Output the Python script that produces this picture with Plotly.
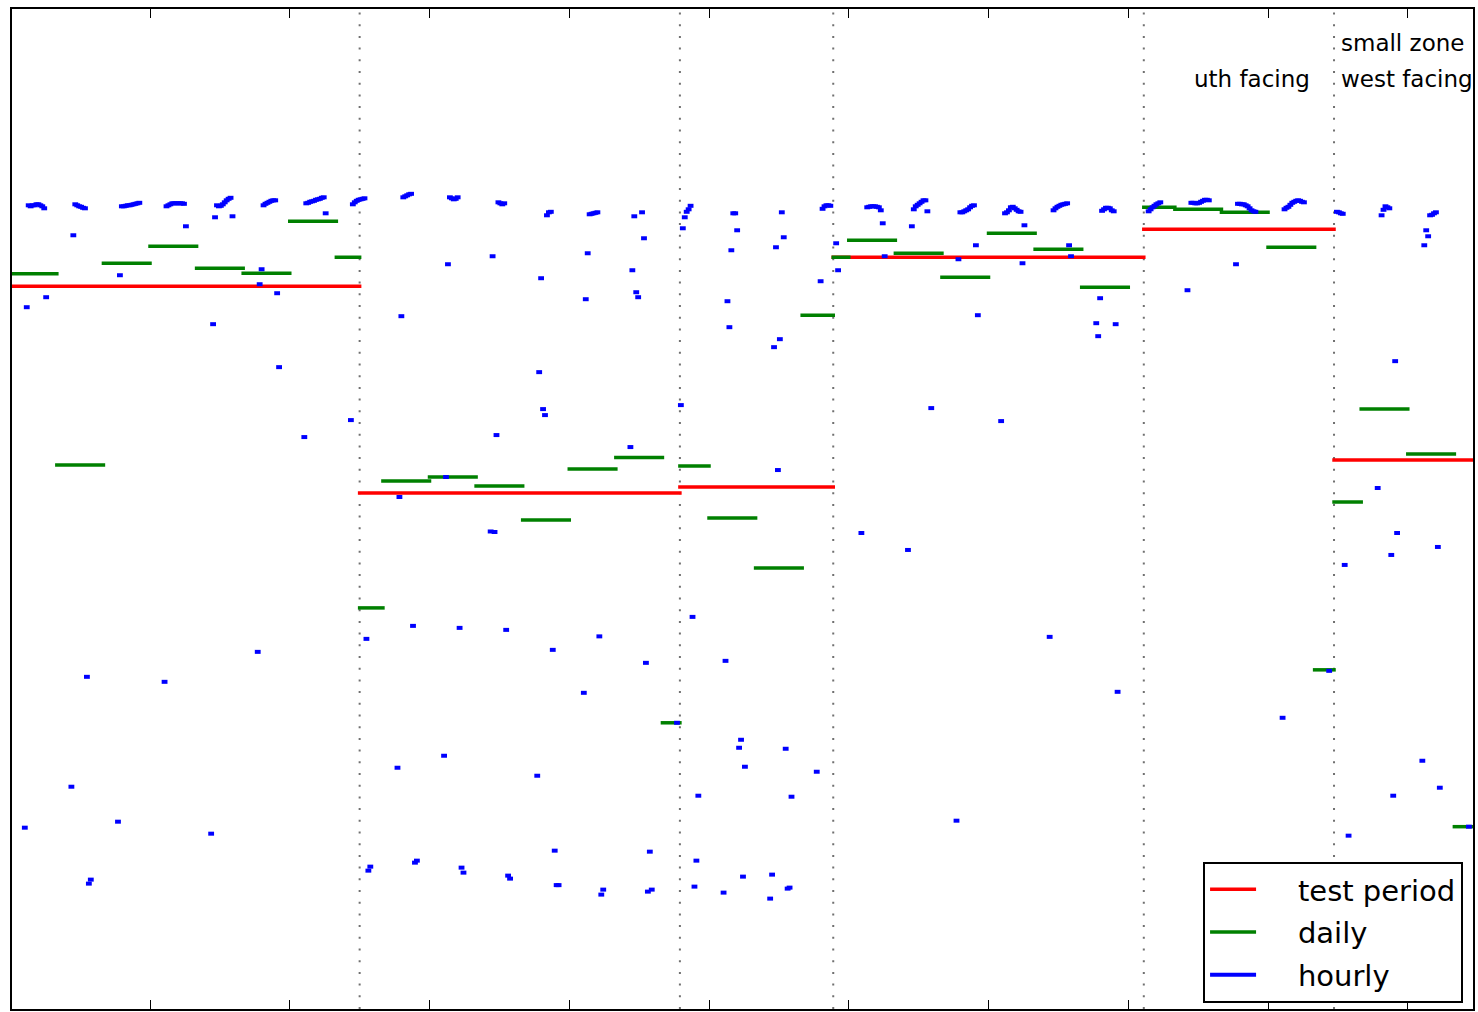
import plotly.graph_objects as go

# ---------------- data (x in hours from start, y in arbitrary units) ----------------
period_start = [0, 180, 345, 424, 584, 682]
period_end = [180, 345, 424, 584, 682, 753]
period_value = [72.4, 51.7, 52.3, 75.3, 78.1, 55.0]

day_start = [0, 24, 48, 72, 96, 120, 144, 168,
             180, 192, 216, 240, 264, 288, 312, 336,
             345, 360, 384, 408,
             424, 432, 456, 480, 504, 528, 552,
             584, 600, 624, 648, 672,
             682, 696, 720, 744]
day_end = [24, 48, 72, 96, 120, 144, 168, 180,
           192, 216, 240, 264, 288, 312, 336, 345,
           360, 384, 408, 424,
           432, 456, 480, 504, 528, 552, 576,
           600, 624, 648, 672, 682,
           696, 720, 744, 753]
day_value = [73.65, 54.5, 74.7, 76.4, 74.2, 73.7, 78.9, 75.3,
             40.2, 52.9, 53.3, 52.4, 49.0, 54.1, 55.25, 28.7,
             54.4, 49.2, 44.2, 69.5,
             75.3, 77.0, 75.7, 73.3, 77.7, 76.1, 72.3,
             80.3, 80.1, 79.8, 76.3, 34.0,
             50.8, 60.1, 55.6, 18.3]

hours_zone1 = [7, 8, 9, 10, 11, 12, 13, 14, 15, 16, 17, 18,
               31, 32, 33, 34, 35, 36, 37, 38, 39, 40, 41,
               55, 56, 57, 58, 59, 60, 61, 62, 63, 64, 65, 66,
               79, 80, 81, 82, 83, 84, 85, 86, 87, 88, 89, 90,
               103, 104, 105, 106, 107, 108, 109, 110, 111, 112, 113, 114,
               127, 128, 129, 130, 131, 132, 133, 134, 135, 136, 137, 138,
               151, 152, 153, 154, 155, 156, 157, 158, 159, 160, 161, 162,
               175, 176, 177, 178, 179]
values_zone1 = [18.2, 70.3, 80.5, 80.4, 80.5, 80.5, 80.6, 80.6, 80.5, 80.4, 80.2, 71.3,
                22.3, 77.5, 80.6, 80.5, 80.4, 80.35, 80.25, 80.2, 33.3, 12.6, 13.0,
                18.8, 73.5, 80.4, 80.4, 80.45, 80.5, 80.5, 80.55, 80.6, 80.65, 80.7, 80.75,
                32.8, 80.4, 80.5, 80.6, 80.7, 80.7, 80.7, 80.7, 80.7, 80.7, 80.65, 78.4,
                17.6, 68.6, 79.3, 80.5, 80.4, 80.45, 80.6, 80.8, 81.0, 81.15, 81.25, 79.4,
                35.8, 72.6, 74.1, 80.5, 80.65, 80.75, 80.85, 80.95, 81.0, 81.0, 71.7, 64.3,
                57.3, 80.7, 80.75, 80.85, 80.9, 80.95, 81.05, 81.1, 81.15, 81.25, 81.3, 79.7,
                59.0, 80.6, 80.8, 80.95, 81.05]

hours_zone2 = [180, 181, 182, 183, 184, 185,
               199, 200, 201, 202, 203, 204, 205, 206, 207, 208, 209,
               223, 224, 225, 226, 227, 228, 229, 230, 231, 232, 233,
               247, 248, 249, 250, 251, 252, 253, 254, 255, 256, 257,
               271, 272, 273, 274, 275, 276, 277, 278, 279, 280, 281, 282,
               295, 296, 297, 298, 299, 300, 301, 302, 303, 304, 305,
               319, 320, 321, 322, 323, 325, 326, 327, 328, 329, 330,
               343]
values_zone2 = [81.1, 81.15, 81.2, 37.1, 13.9, 14.3,
                24.2, 51.3, 69.4, 81.3, 81.4, 81.5, 81.6, 81.65, 38.4, 14.7, 14.9,
                25.4, 53.3, 74.6, 81.3, 81.2, 81.1, 81.15, 81.3, 38.2, 14.2, 13.7,
                47.85, 75.4, 47.8, 57.5, 80.8, 80.7, 80.6, 80.7, 38.0, 13.4, 13.1,
                23.4, 63.8, 73.2, 60.1, 59.5, 79.5, 79.8, 79.85, 36.0, 15.9, 12.45, 12.45,
                31.7, 71.1, 75.7, 79.6, 79.65, 79.7, 79.75, 79.8, 37.35, 11.5, 12.0,
                56.3, 74.0, 79.4, 71.8, 71.3, 79.8, 77.2, 34.7, 11.8, 15.8, 12.0,
                28.7]

hours_zone3 = [345, 346, 347, 348, 349, 350, 351, 352, 353, 354,
               367, 368, 369, 370, 371, 372, 373, 374, 375, 376, 377, 378,
               391, 392, 393, 394, 395, 396, 397, 398, 399, 400, 401, 402,
               415, 417, 418, 419, 420, 421, 422]
values_zone3 = [60.5, 78.2, 79.3, 79.85, 80.1, 80.45, 39.3, 12.3, 14.9, 21.4,
                11.7, 34.9, 70.9, 68.3, 76.0, 79.7, 79.7, 78.0, 26.2, 27.0, 13.3, 24.3,
                11.1, 13.5, 66.3, 76.3, 54.0, 67.1, 79.8, 77.3, 26.1, 12.1, 12.2, 21.3,
                23.8, 72.9, 80.15, 80.4, 80.5, 80.5, 80.45]

hours_zone4 = [425, 426,
               438, 441, 442, 443, 444, 445, 446, 447, 448, 449, 450,
               462, 464, 465, 466, 467, 468, 469, 470, 471, 472, 474,
               487, 488, 489, 490, 491, 492, 493, 494, 495, 496, 497, 498,
               510, 512, 513, 514, 515, 516, 517, 518, 519, 520, 521, 522,
               535, 537, 538, 539, 540, 541, 542, 543, 544, 545, 546,
               559, 560, 561, 562, 563, 564, 565, 566, 567, 568, 569, 570]
values_zone4 = [76.7, 74.0,
                47.7, 80.3, 80.35, 80.4, 80.4, 80.4, 80.35, 80.3, 80.0, 78.7, 75.4,
                46.0, 78.4, 80.1, 80.4, 80.55, 80.7, 80.85, 81.0, 81.0, 79.9, 60.2,
                18.9, 75.1, 79.8, 79.8, 79.9, 80.0, 80.1, 80.3, 80.45, 80.5, 76.5, 69.5,
                58.9, 79.7, 79.8, 80.0, 80.3, 80.35, 80.2, 80.05, 79.9, 79.85, 74.7, 78.5,
                37.3, 80.0, 80.2, 80.35, 80.45, 80.55, 80.6, 80.65, 80.7, 76.5, 75.4,
                68.7, 67.4, 71.2, 79.95, 80.1, 80.25, 80.25, 80.2, 80.0, 79.9, 68.6, 31.8]

hours_zone5 = [586, 587, 588, 589, 590, 591, 592,
               606, 608, 609, 610, 611, 612, 613, 614, 615, 616, 617,
               631, 632, 633, 634, 635, 636, 637, 638, 639, 640, 641,
               655, 656, 657, 658, 659, 660, 661, 662, 663, 664, 665, 666,
               679]
values_zone5 = [79.9, 80.1, 80.3, 80.45, 80.6, 80.7, 80.8,
                72.0, 80.75, 80.75, 80.7, 80.7, 80.75, 80.85, 80.95, 81.05, 81.05, 81.0,
                74.6, 80.65, 80.65, 80.6, 80.6, 80.5, 80.4, 80.2, 80.0, 79.9, 79.85,
                29.2, 80.1, 80.25, 80.35, 80.55, 80.75, 80.85, 80.95, 81.0, 80.95, 80.85, 80.8,
                33.9]

hours_zone6 = [683, 684, 685, 686, 687, 689,
               704, 706, 707, 708, 709, 710, 711, 712, 713, 714,
               727, 728, 729, 730, 731, 732, 733, 734, 735, 736,
               751]
values_zone6 = [79.85, 79.8, 79.7, 79.65, 44.5, 17.4,
                52.2, 79.5, 80.05, 80.4, 80.3, 80.2, 45.5, 21.4, 64.9, 47.7,
                24.9, 76.5, 78.0, 77.4, 79.5, 79.55, 79.7, 79.8, 46.3, 22.2,
                18.3]

zone_texts = ["uth facing", "small zone", "west facing"]
legend_names = ["test period", "daily", "hourly"]

# ---------------- build ----------------
hourly_hour = hours_zone1 + hours_zone2 + hours_zone3 + hours_zone4 + hours_zone5 + hours_zone6
hourly_value = values_zone1 + values_zone2 + values_zone3 + values_zone4 + values_zone5 + values_zone6

LINE_W = 3.5
HOURLY_W = 4
CAP = 0.9  # projecting line cap (half the line width), expressed in hours


def segments(starts, ends, vals, cap=CAP):
    xs, ys = [], []
    for s, e, v in zip(starts, ends, vals):
        xs += [s - cap, e + cap, None]
        ys += [v, v, None]
    return xs, ys


FONT = "DejaVu Sans"
PAD = "\u00a0" * 4
fig = go.Figure()

px_, py_ = segments(period_start, period_end, period_value)
fig.add_trace(go.Scatter(x=px_, y=py_, mode="lines", name=PAD + legend_names[0],
                         legendgroup="a", line=dict(color="#ff0000", width=LINE_W)))

dx, dy = segments(day_start, day_end, day_value)
fig.add_trace(go.Scatter(x=dx, y=dy, mode="lines", name=PAD + legend_names[1],
                         legendgroup="b", line=dict(color="#008000", width=LINE_W)))

hx, hy = segments(hourly_hour, [h + 1 for h in hourly_hour], hourly_value, cap=1.0)
fig.add_trace(go.Scatter(x=hx, y=hy, mode="lines", name=PAD + legend_names[2],
                         legendgroup="c", line=dict(color="#0000ff", width=HOURLY_W)))

for b in period_end[:-1]:
    fig.add_vline(x=b, line=dict(color="#707070", width=2, dash="2px,9.7px"), layer="below")

fig.add_annotation(x=period_end[4] - 11.5, y=93.1, text=zone_texts[0], xanchor="right",
                   yanchor="middle", showarrow=False, font=dict(family=FONT, size=23, color="black"))
fig.add_annotation(x=period_end[4] + 2.5, y=96.7, text=zone_texts[1], xanchor="left",
                   yanchor="middle", showarrow=False, font=dict(family=FONT, size=23, color="black"))
fig.add_annotation(x=period_end[4] + 2.5, y=93.1, text=zone_texts[2], xanchor="left",
                   yanchor="middle", showarrow=False, font=dict(family=FONT, size=23, color="black"))

fig.update_layout(
    width=1478, height=1012,
    margin=dict(l=12, r=5, t=9, b=3),
    plot_bgcolor="white", paper_bgcolor="white",
    font=dict(family=FONT, color="black"),
    legend=dict(x=0.9932, y=0.006, xanchor="right", yanchor="bottom",
                bordercolor="black", borderwidth=2, bgcolor="white",
                font=dict(family=FONT, size=29, color="black"),
                itemwidth=46, tracegroupgap=2),
    xaxis=dict(range=[0.9, 753.6], showgrid=False, zeroline=False,
               showline=True, linecolor="black", linewidth=2, mirror="allticks",
               ticks="inside", ticklen=9, tickwidth=1.3, tickcolor="black",
               tick0=0, dtick=72, showticklabels=False),
    yaxis=dict(range=[0.05, 100.15], showgrid=False, zeroline=False,
               showline=True, linecolor="black", linewidth=2, mirror=True,
               ticks="", showticklabels=False),
)

fig.write_html("out.html", config={"displayModeBar": False},
               post_script="document.body.style.margin='0';document.body.style.overflow='hidden';")
